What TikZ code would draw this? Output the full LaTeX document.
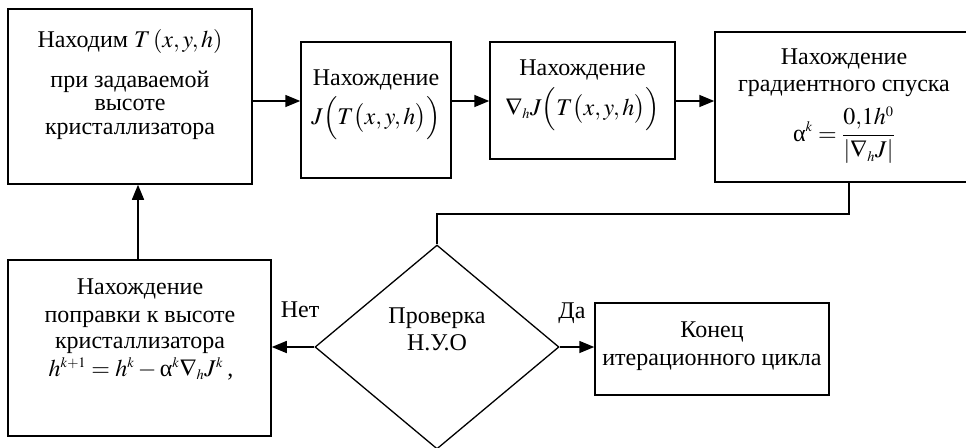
\documentclass[tikz,border=0pt]{standalone}
\usepackage{mathptmx}
\usepackage{fontspec}
\setmainfont{Liberation Serif}
\usetikzlibrary{arrows.meta,shapes.geometric}
\newcommand{\ssup}[1]{^{\scriptscriptstyle #1}}
\newcommand{\ssub}[1]{_{\scriptscriptstyle #1}}
\newcommand{\ualpha}{\mbox{α}}
\tikzset{
  box/.style={draw,line width=1.5pt,rectangle,inner sep=0pt},
  chkshape/.style={draw,line width=1.3pt,diamond,inner sep=0pt,aspect=1},
  arr/.style={line width=1.5pt,-{Triangle[length=15pt,width=12pt]}},
  ln/.style={line width=1.5pt},
  txt/.style={anchor=base,inner sep=0pt,font=\fontsize{24}{27}\selectfont},
}
\begin{document}
\begin{tikzpicture}[x=1pt,y=-1pt]
\useasboundingbox (0,0) rectangle (966,447);
\clip (0,0) rectangle (966,447);
% boxes
\node[box,minimum width=244pt,minimum height=175pt] (A) at (130,96.5) {};
\node[box,minimum width=150pt,minimum height=136pt] (B) at (376,110) {};
\node[box,minimum width=185pt,minimum height=117pt] (C) at (582.5,100.5) {};
\node[box,minimum width=258pt,minimum height=150pt] (D) at (844,107) {};
\node[chkshape,minimum width=244pt,minimum height=204pt] (K) at (437,347) {};
\node[box,minimum width=234pt,minimum height=92pt] (F) at (712,349) {};
\node[box,minimum width=263pt,minimum height=176pt] (E) at (139.5,348) {};
% texts
\node[txt] (a1) at (130,47) {Находим $T\left(x,y,h\right)$};
\node[txt] (a2) at (130,87) {при задаваемой};
\node[txt] (a3) at (130,110) {высоте};
\node[txt] (a4) at (130,134) {кристаллизатора};
\node[txt] (b1) at (376,85) {Нахождение};
\node[txt] (b2) at (376,124) {$J\Bigl(T\bigl(x,y,h\bigr)\Bigr)$};
\node[txt] (c1) at (582.5,75) {Нахождение};
\node[txt] (c2) at (582.5,115) {$\nabla\ssub{h}J\Bigl(T\bigl(x,y,h\bigr)\Bigr)$};
\node[txt] (d1) at (844,64) {Нахождение};
\node[txt] (d2) at (844,91) {градиентного спуска};
\node[txt] (d3) at (844,141) {$\displaystyle\ualpha\ssup{k}=\frac{0{,}1h\ssup{0}}{\left|\nabla\ssub{h}J\right|}$};
\node[txt] (k1) at (437,323) {Проверка};
\node[txt] (k2) at (437,350) {Н.У.О};
\node[txt] (da) at (572,318) {Да};
\node[txt] (net) at (300,317) {Нет};
\node[txt] (f1) at (712,337) {Конец};
\node[txt] (f2) at (712,365) {итерационного цикла};
\node[txt] (e1) at (140,294) {Нахождение};
\node[txt] (e2) at (140,322) {поправки к высоте};
\node[txt] (e3) at (140,348) {кристаллизатора};
\node[txt] (e4) at (141,376) {$h\ssup{k+1}=h\ssup{k}-\ualpha\ssup{k}\nabla\ssub{h}J\ssup{k}$\,,};
% connectors
\draw[arr] (A.east |- 0,101) -- (B.west |- 0,101);
\draw[arr] (B.east |- 0,101) -- (C.west |- 0,101);
\draw[arr] (C.east |- 0,101) -- (D.west |- 0,101);
\draw[ln] (D.south -| 849,0) -- (849,214) -- (K.north |- 0,214) -- (K.north);
\draw[arr] (K.east) -- (F.west |- K.east);
\draw[arr] (K.west) -- (E.east |- K.west);
\draw[arr] (E.north -| 138,0) -- (A.south -| 138,0);
\end{tikzpicture}
\end{document}
